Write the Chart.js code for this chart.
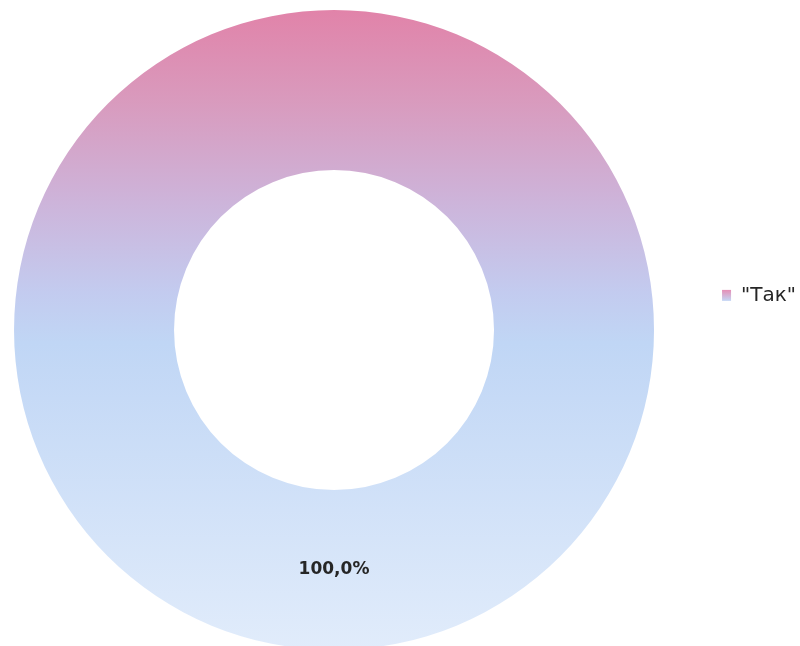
<!DOCTYPE html>
<html>
<head>
	<meta charset="UTF-8">
	<title>Так</title>
	<script src="https://cdn.jsdelivr.net/npm/chart.js@4.4.1/dist/chart.umd.min.js"></script>
	<style>
		html, body { margin: 0; padding: 0; background: #ffffff; overflow: hidden; }
		#wrap { width: 800px; height: 646px; overflow: hidden; }
		canvas { display: block; }
	</style>
</head>
<body>
	<div id="wrap">
		<!-- canvas is a bit wider/taller than the page so ring and legend sit where the reference has them -->
		<canvas id="pie" width="806" height="650"></canvas>
	</div>
	<script>
	const labels = ['"Так"'];
	const values = [100];

	// pink at the top fading to pale blue at the bottom
	const ringStops = [
		[0.00, '#e183a9'],
		[0.14, '#d99abd'],
		[0.30, '#cdb4da'],
		[0.44, '#c3cbef'],
		[0.52, '#c0d6f5'],
		[1.00, '#e1ecfb']
	];

	function ringFill(context){
		const chart = context.chart;
		const area = chart.chartArea;
		if(!area){
			return ringStops[0][1];
		}
		const g = chart.ctx.createLinearGradient(0, area.top, 0, area.bottom);
		for(let i = 0; i < ringStops.length; i++){
			g.addColorStop(ringStops[i][0], ringStops[i][1]);
		}
		return g;
	}

	function pctText(v){
		let total = 0;
		for(let i = 0; i < values.length; i++){
			total += values[i];
		}
		return (v / total * 100).toFixed(1).replace('.', ',') + '%';
	}

	// percentage written in the middle of each slice
	const sliceLabels = {
		id: 'sliceLabels',
		afterDatasetsDraw(chart){
			const ctx = chart.ctx;
			const meta = chart.getDatasetMeta(0);
			ctx.save();
			ctx.font = 'bold 17px "DejaVu Sans"';
			ctx.fillStyle = '#262626';
			ctx.textAlign = 'center';
			ctx.textBaseline = 'middle';
			meta.data.forEach(function(arc, i){
				const p = arc.tooltipPosition();
				ctx.fillText(pctText(values[i]), p.x, p.y);
			});
			ctx.restore();
		}
	};

	const ctx = document.getElementById('pie').getContext('2d');
	const chart = new Chart(ctx, {
		type: 'doughnut',
		data: {
			labels: labels,
			datasets: [{
				data: values,
				backgroundColor: ringFill,
				borderWidth: 0,
				hoverOffset: 0
			}]
		},
		options: {
			responsive: false,
			animation: false,
			cutout: '50%',
			layout: {
				padding: { left: 0, top: 10, right: 0, bottom: 0 }
			},
			plugins: {
				tooltip: { enabled: false },
				legend: {
					position: 'right',
					align: 'start',
					title: {
						display: true,
						text: '',
						font: { size: 12 },
						padding: { top: 207, bottom: 0 }
					},
					labels: {
						boxWidth: 9,
						boxHeight: 11,
						padding: 54,
						color: '#262626',
						font: { family: '"DejaVu Sans"', size: 20 },
						generateLabels: function(ch){
							const g = ch.ctx.createLinearGradient(0, 290, 0, 301);
							g.addColorStop(0, '#e58fb6');
							g.addColorStop(1, '#c4d8f6');
							return labels.map(function(t, i){
								return {
									text: t,
									fillStyle: g,
									fontColor: '#262626',
									strokeStyle: 'rgba(0,0,0,0)',
									lineWidth: 0,
									hidden: false,
									index: i,
									datasetIndex: 0
								};
							});
						}
					}
				}
			}
		},
		plugins: [sliceLabels]
	});
	</script>
</body>
</html>
